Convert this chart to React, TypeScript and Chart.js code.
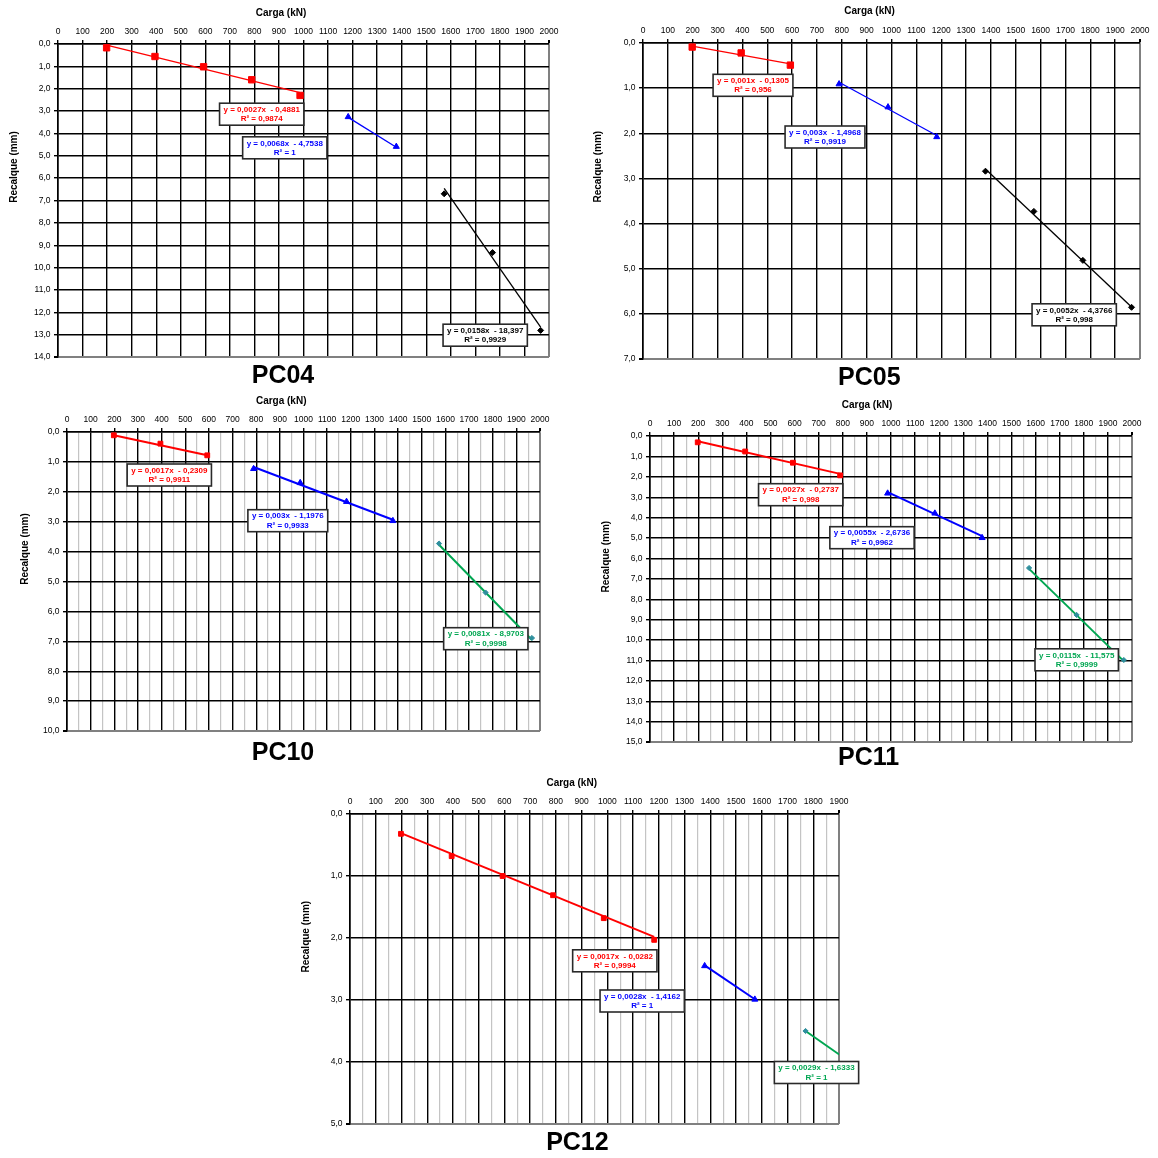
import { useEffect, useRef } from "react";
import { Chart, registerables } from "chart.js";

Chart.register(...registerables);

const FONT = "'Liberation Sans', Arial, Helvetica, sans-serif";

// ---------- PC04 ----------
const pc04LoadsA = [198, 395, 593, 789, 986];
const pc04SettleA = [0.17, 0.56, 1.02, 1.6, 2.3];
const pc04LoadsB = [1182, 1378];
const pc04SettleB = [3.26, 4.59];
const pc04LoadsC = [1573, 1770, 1966];
const pc04SettleC = [6.7, 9.33, 12.81];
const pc04Slopes = [0.0027, 0.0068, 0.0158];
const pc04Intercepts = [-0.4881, -4.7538, -18.397];
const pc04R2 = [0.9874, 1, 0.9929];

// ---------- PC05 ----------
const pc05LoadsA = [198, 395, 593];
const pc05SettleA = [0.09, 0.22, 0.49];
const pc05LoadsB = [789, 986, 1182];
const pc05SettleB = [0.91, 1.42, 2.08];
const pc05LoadsC = [1378, 1573, 1770, 1966];
const pc05SettleC = [2.84, 3.73, 4.815, 5.855];
const pc05Slopes = [0.001, 0.003, 0.0052];
const pc05Intercepts = [-0.1305, -1.4968, -4.3766];
const pc05R2 = [0.956, 0.9919, 0.998];

// ---------- PC10 ----------
const pc10LoadsA = [198, 395, 593];
const pc10SettleA = [0.11, 0.39, 0.78];
const pc10LoadsB = [789, 986, 1182, 1378];
const pc10SettleB = [1.23, 1.7, 2.33, 2.97];
const pc10LoadsC = [1573, 1770, 1966];
const pc10SettleC = [3.73, 5.37, 6.89];
const pc10Slopes = [0.0017, 0.003, 0.0081];
const pc10Intercepts = [-0.2309, -1.1976, -8.9703];
const pc10R2 = [0.9911, 0.9933, 0.9998];

// ---------- PC11 ----------
const pc11LoadsA = [198, 395, 593, 789];
const pc11SettleA = [0.31, 0.76, 1.31, 1.93];
const pc11LoadsB = [986, 1182, 1378];
const pc11SettleB = [2.81, 3.79, 4.99];
const pc11LoadsC = [1573, 1770, 1966];
const pc11SettleC = [6.47, 8.77, 10.98];
const pc11Slopes = [0.0027, 0.0055, 0.0115];
const pc11Intercepts = [-0.2737, -2.6736, -11.575];
const pc11R2 = [0.998, 0.9962, 0.9999];

// ---------- PC12 ----------
const pc12LoadsA = [198, 395, 593, 789, 986, 1182];
const pc12SettleA = [0.32, 0.68, 1.0, 1.31, 1.68, 2.03];
const pc12LoadsB = [1378, 1573];
const pc12SettleB = [2.45, 2.99];
const pc12LoadsC = [1770, 1966];
const pc12SettleC = [3.5, 4.05];
const pc12Slopes = [0.0017, 0.0028, 0.0029];
const pc12Intercepts = [-0.0282, -1.4162, -1.6333];
const pc12R2 = [0.9994, 1, 1];

const RED = "#ff0000";
const BLUE = "#0000ff";
const BLACK = "#000000";
const GREEN = "#00a651";
const TEAL = "#2f8f9d";
const MAJOR = "#000000";
const MINOR = "#c4c4c4";
const EDGE = "#808080";

type Pt = [number, number];

type Panel = {
  name: string;
  loads: number[][];
  settle: number[][];
  slopes: number[];
  intercepts: number[];
  r2: number[];
  xMax: number;
  yMax: number;
  modern: boolean; // thicker trend lines, green third stage, minor grid
  area: { left: number; top: number; right: number; bottom: number };
  xTitle: Pt;
  yTitle: Pt;
  nameAt: Pt;
  boxes: Pt[];
};

const panels: Panel[] = [
  {
    name: "PC04",
    loads: [pc04LoadsA, pc04LoadsB, pc04LoadsC],
    settle: [pc04SettleA, pc04SettleB, pc04SettleC],
    slopes: pc04Slopes,
    intercepts: pc04Intercepts,
    r2: pc04R2,
    xMax: 2000,
    yMax: 14,
    modern: false,
    area: { left: 58, top: 44, right: 549, bottom: 357 },
    xTitle: [223, -31],
    yTitle: [-44, 123],
    nameAt: [225, 332],
    boxes: [[203.7, 70.2], [226.8, 103.8], [427.2, 291.2]],
  },
  {
    name: "PC05",
    loads: [pc05LoadsA, pc05LoadsB, pc05LoadsC],
    settle: [pc05SettleA, pc05SettleB, pc05SettleC],
    slopes: pc05Slopes,
    intercepts: pc05Intercepts,
    r2: pc05R2,
    xMax: 2000,
    yMax: 7,
    modern: false,
    area: { left: 643, top: 43, right: 1140, bottom: 359 },
    xTitle: [226.5, -31.3],
    yTitle: [-44.5, 123.7],
    nameAt: [226.3, 335.3],
    boxes: [[110, 42.3], [182, 94], [431.2, 271.8]],
  },
  {
    name: "PC10",
    loads: [pc10LoadsA, pc10LoadsB, pc10LoadsC],
    settle: [pc10SettleA, pc10SettleB, pc10SettleC],
    slopes: pc10Slopes,
    intercepts: pc10Intercepts,
    r2: pc10R2,
    xMax: 2000,
    yMax: 10,
    modern: true,
    area: { left: 67, top: 432, right: 540, bottom: 731 },
    xTitle: [214.2, -30.3],
    yTitle: [-42, 117],
    nameAt: [216, 320.7],
    boxes: [[102.3, 43], [220.8, 88.7], [418.8, 206.7]],
  },
  {
    name: "PC11",
    loads: [pc11LoadsA, pc11LoadsB, pc11LoadsC],
    settle: [pc11SettleA, pc11SettleB, pc11SettleC],
    slopes: pc11Slopes,
    intercepts: pc11Intercepts,
    r2: pc11R2,
    xMax: 2000,
    yMax: 15,
    modern: true,
    area: { left: 650, top: 436, right: 1132, bottom: 742 },
    xTitle: [217, -30.3],
    yTitle: [-43.4, 120.7],
    nameAt: [218.7, 322.3],
    boxes: [[150.7, 58.7], [222, 101.7], [426.7, 223.8]],
  },
  {
    name: "PC12",
    loads: [pc12LoadsA, pc12LoadsB, pc12LoadsC],
    settle: [pc12SettleA, pc12SettleB, pc12SettleC],
    slopes: pc12Slopes,
    intercepts: pc12Intercepts,
    r2: pc12R2,
    xMax: 1900,
    yMax: 5,
    modern: true,
    area: { left: 350, top: 814, right: 839, bottom: 1124 },
    xTitle: [221.7, -30.7],
    yTitle: [-43.4, 122.7],
    nameAt: [227.4, 329.3],
    boxes: [[264.8, 146.8], [292.2, 187], [466.5, 258.5]],
  },
];

const ML = 58;
const MT = 44;
const MR = 30;
const MB = 44;

const comma = (n: number) => String(n).replace(".", ",");

function seriesLook(modern: boolean) {
  return [
    { color: RED, marker: RED, style: "rect", radius: modern ? 3.4 : 4.5 },
    { color: BLUE, marker: BLUE, style: "triangle", radius: 3.5 },
    modern
      ? { color: GREEN, marker: TEAL, style: "rectRot", radius: 2.6 }
      : { color: BLACK, marker: BLACK, style: "rectRot", radius: 3 },
  ];
}

function PanelChart({ p }: { p: Panel }) {
  const ref = useRef<HTMLCanvasElement>(null);
  const w = p.area.right - p.area.left + ML + MR;
  const h = p.area.bottom - p.area.top + MT + MB;

  useEffect(() => {
    const looks = seriesLook(p.modern);
    const pointSets: any[] = [];
    const trendSets: any[] = [];
    p.loads.forEach((loads, i) => {
      const look = looks[i];
      pointSets.push({
        data: loads.map((x, k) => ({ x, y: p.settle[i][k] })),
        showLine: false,
        pointStyle: look.style,
        pointRadius: look.radius,
        pointBackgroundColor: look.marker,
        pointBorderColor: look.marker,
        pointBorderWidth: 1,
      });
      const x0 = loads[0];
      const x1 = loads[loads.length - 1];
      trendSets.push({
        data: [
          { x: x0, y: p.slopes[i] * x0 + p.intercepts[i] },
          { x: x1, y: p.slopes[i] * x1 + p.intercepts[i] },
        ],
        showLine: true,
        pointRadius: 0,
        borderColor: look.color,
        borderWidth: p.modern ? 2 : 1.3,
      });
    });

    const labels = {
      id: "fitLabels",
      afterDraw(chart: any) {
        const { ctx, chartArea: a } = chart;
        ctx.save();
        ctx.fillStyle = "#000";
        ctx.textAlign = "center";
        ctx.textBaseline = "middle";
        ctx.font = `bold 10px ${FONT}`;
        ctx.fillText("Carga (kN)", a.left + p.xTitle[0], a.top + p.xTitle[1]);
        ctx.save();
        ctx.translate(a.left + p.yTitle[0], a.top + p.yTitle[1]);
        ctx.rotate(-Math.PI / 2);
        ctx.fillText("Recalque (mm)", 0, 0);
        ctx.restore();
        ctx.font = `bold 25px ${FONT}`;
        ctx.fillText(p.name, a.left + p.nameAt[0], a.top + p.nameAt[1]);

        ctx.font = `bold 8px ${FONT}`;
        p.boxes.forEach((b, i) => {
          const eq = `y = ${comma(p.slopes[i])}x  - ${comma(Math.abs(p.intercepts[i]))}`;
          const r2 = `R² = ${comma(p.r2[i])}`;
          const bw = Math.max(ctx.measureText(eq).width, ctx.measureText(r2).width) + 8;
          const bh = 22;
          const cx = a.left + b[0];
          const cy = a.top + b[1];
          ctx.fillStyle = "#ffffff";
          ctx.fillRect(cx - bw / 2, cy - bh / 2, bw, bh);
          ctx.strokeStyle = "#2a2a2a";
          ctx.lineWidth = 1.6;
          ctx.strokeRect(cx - bw / 2, cy - bh / 2, bw, bh);
          ctx.fillStyle = looks[i].color;
          ctx.fillText(eq, cx, cy - 4.5);
          ctx.fillText(r2, cx, cy + 4.8);
        });
        ctx.restore();
      },
    };

    const tickFont = { family: FONT, size: 8.5 };
    const chart = new Chart(ref.current as HTMLCanvasElement, {
      type: "scatter",
      data: { datasets: [...pointSets, ...trendSets] },
      options: {
        animation: false,
        responsive: false,
        maintainAspectRatio: false,
        events: [],
        layout: { padding: { left: 0, top: 0, right: MR, bottom: MB } },
        plugins: { legend: { display: false }, tooltip: { enabled: false } },
        scales: {
          x: {
            type: "linear",
            position: "top",
            min: 0,
            max: p.xMax,
            afterFit: (s: any) => {
              s.height = MT;
            },
            ticks: {
              stepSize: p.modern ? 50 : 100,
              autoSkip: false,
              maxRotation: 0,
              padding: 3.5,
              color: "#000",
              font: tickFont,
              callback: (v: any) => (Number(v) % 100 === 0 ? String(v) : ""),
            },
            grid: {
              drawTicks: true,
              tickLength: 4,
              color: (c: any) => {
                const v = c.tick ? c.tick.value : 0;
                if (v === p.xMax) return EDGE;
                return v % 100 === 0 ? MAJOR : MINOR;
              },
              lineWidth: (c: any) => {
                const v = c.tick ? c.tick.value : 0;
                if (v === p.xMax) return 2;
                return v % 100 === 0 ? 1.4 : 1.2;
              },
              tickColor: (c: any) =>
                c.tick && c.tick.value % 100 === 0 ? "#000" : "rgba(0,0,0,0)",
            },
            border: { display: true, color: "#000", width: 1.6 },
          },
          y: {
            type: "linear",
            reverse: true,
            min: 0,
            max: p.yMax,
            afterFit: (s: any) => {
              s.width = ML;
            },
            ticks: {
              stepSize: 1,
              padding: 3.5,
              color: "#000",
              font: tickFont,
              callback: (v: any) => Number(v).toFixed(1).replace(".", ","),
            },
            grid: {
              drawTicks: true,
              tickLength: 4,
              color: (c: any) => (c.tick && c.tick.value === p.yMax ? EDGE : MAJOR),
              lineWidth: (c: any) => (c.tick && c.tick.value === p.yMax ? 2 : 1.4),
              tickColor: "#000",
            },
            border: { display: true, color: "#000", width: 1.6 },
          },
        },
      } as any,
      plugins: [labels],
    });
    return () => chart.destroy();
  }, [p]);

  return (
    <canvas
      ref={ref}
      width={w}
      height={h}
      style={{
        position: "absolute",
        left: p.area.left - ML,
        top: p.area.top - MT,
        width: w,
        height: h,
      }}
    />
  );
}

export default function App() {
  return (
    <div
      style={{
        position: "absolute",
        left: 0,
        top: 0,
        width: 1158,
        height: 1158,
        overflow: "hidden",
        background: "#ffffff",
      }}
    >
      {panels.map((p) => (
        <PanelChart key={p.name} p={p} />
      ))}
    </div>
  );
}
